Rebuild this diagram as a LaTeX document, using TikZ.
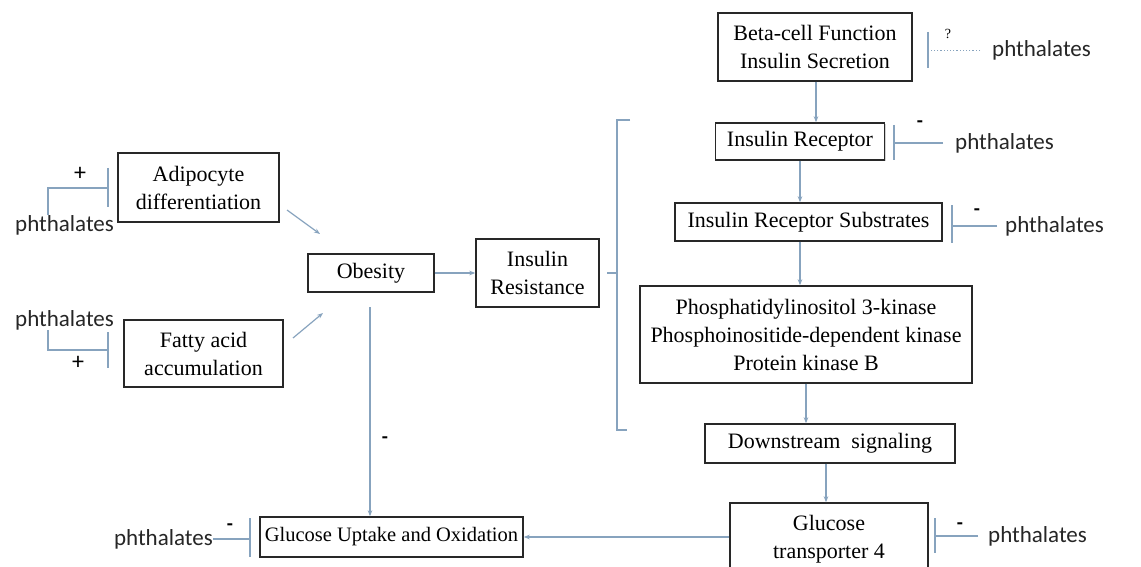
\documentclass[tikz,border=0pt]{standalone}
\usepackage{fontspec}
\setmainfont{Liberation Serif}
\newfontfamily\phfont{Carlito}
\usetikzlibrary{arrows.meta,shadows}
\definecolor{conn}{RGB}{135,163,190}
\definecolor{boxline}{RGB}{40,40,40}
\tikzset{
  box/.style={draw=boxline, line width=1.4pt, fill=white, inner sep=0pt, align=center,
    font=\fontsize{22}{28}\selectfont,
    drop shadow={shadow xshift=1.2pt, shadow yshift=-1.2pt, opacity=0.35}},
  conn/.style={draw=conn, line width=1.2pt},
  arr/.style={conn, -{Stealth[length=6pt,width=4.5pt]}},
  ph/.style={inner sep=0pt, font=\phfont\fontsize{23}{24}\selectfont, text=black!85},
  sign/.style={inner sep=0pt, font=\phfont\bfseries\fontsize{20}{20}\selectfont},
  plus/.style={inner sep=0pt, font=\phfont\fontsize{24}{24}\selectfont},
}
\begin{document}
\begin{tikzpicture}[x=1pt,y=-1pt]
\clip (0,0) rectangle (1141,567);
\fill[white] (0,0) rectangle (1141,567);

% boxes
\node[box, minimum width=161pt, minimum height=69pt] (adip) at (198.5,187.5) {Adipocyte\\differentiation};
\node[box, minimum width=159pt, minimum height=67pt] (fatty) at (203.5,353.5) {Fatty acid\\accumulation};
\node[box, minimum width=126pt, minimum height=38pt] (obes) at (371,273) {Obesity};
\node[box, minimum width=123pt, minimum height=68pt] (ires) at (537.5,273) {Insulin\\Resistance};
\node[box, minimum width=194pt, minimum height=68pt] (beta) at (815,47) {Beta-cell Function\\Insulin Secretion};
\node[box, minimum width=169pt, minimum height=37pt] (irec) at (800,141.5) {Insulin Receptor};
\node[box, minimum width=267pt, minimum height=38pt] (irs) at (808.5,222) {Insulin Receptor Substrates};
\node[box, minimum width=332pt, minimum height=97pt] (pik) at (806,334.5) {Phosphatidylinositol 3-kinase\\Phosphoinositide-dependent kinase\\Protein kinase B};
\node[box, minimum width=250pt, minimum height=39pt] (down) at (830,443.5) {Downstream\ \ signaling};
\node[box, minimum width=198pt, minimum height=72pt] (glut) at (829,539) {Glucose\\transporter 4};
\node[box, minimum width=263pt, minimum height=40pt, font=\fontsize{20.5}{28}\selectfont] (gluc) at (391.5,537) {Glucose Uptake and Oxidation};

% phthalates labels
\node[ph, anchor=west] (ph1) at (15,225) {phthalates};
\node[ph, anchor=west] (ph2) at (15,320) {phthalates};
\node[ph, anchor=west] (ph3) at (992,50) {phthalates};
\node[ph, anchor=west] (ph4) at (955,143) {phthalates};
\node[ph, anchor=west] (ph5) at (1005,226) {phthalates};
\node[ph, anchor=west] (ph6) at (988,536) {phthalates};
\node[ph, anchor=east] (ph7) at (213,539) {phthalates};

% main arrows
\coordinate (a1s) at (287,210); \coordinate (a1e) at (320,234);
\draw[arr] (a1s) -- (a1e);
\coordinate (a2s) at (293,338); \coordinate (a2e) at (323,313);
\draw[arr] (a2s) -- (a2e);
\draw[arr] (obes.east) -- (ires.west);
\coordinate (ov) at (370,307);
\draw[arr] (ov) -- (ov |- gluc.north);
\draw[arr] (beta.south -| 816,0) -- (irec.north -| 816,0);
\draw[arr] (irec.south) -- (irs.north -| irec.south);
\draw[arr] (irs.south -| 800,0) -- (pik.north -| 800,0);
\draw[arr] (pik.south) -- (down.north -| pik.south);
\draw[arr] (down.south -| 826,0) -- (glut.north -| 826,0);
\draw[arr] (glut.west |- 0,537) -- (gluc.east |- 0,537);
\node[sign] (m0) at (385,440) {-};

% bracket
\coordinate (brt) at (617,120); \coordinate (brb) at (617,430);
\draw[conn] (630,120) -- (brt) -- (brb) -- (627,430);
\draw[conn] (607,273) -- (617,273);

% inhibitor: adipocyte
\draw[conn] (ph1.north -| 48,0) -- (48,188) -- (108,188);
\draw[conn] (108,168) -- (108,207);
\node[plus] (p1) at (80,174) {+};
% inhibitor: fatty acid
\draw[conn] (ph2.south -| 48,0) -- (48,350) -- (108,350);
\draw[conn] (108,332) -- (108,368);
\node[plus] (p2) at (78,363) {+};
% beta-cell
\draw[conn, dotted, line width=0.8pt] (ph3.west) ++(-12,0) -- (928,50);
\draw[conn] (928,32) -- (928,68);
\node[inner sep=0pt, font=\fontsize{14}{14}\selectfont] (q3) at (948,34) {?};
% insulin receptor
\draw[conn] (ph4.west) ++(-12,0) -- (894,143);
\draw[conn] (894,125) -- (894,160);
\node[sign] (m4) at (920,124) {-};
% IRS
\draw[conn] (ph5.west) ++(-8,0) -- (952,226);
\draw[conn] (952,205) -- (952,243);
\node[sign] (m5) at (977,212) {-};
% GLUT4
\draw[conn] (ph6.west) ++(-10,0) -- (935,536);
\draw[conn] (935,518) -- (935,553);
\node[sign] (m6) at (960,526) {-};
% glucose uptake
\draw[conn] (ph7.east) -- (250,539);
\draw[conn] (250,518) -- (250,557);
\node[sign] (m7) at (230,527) {-};
\end{tikzpicture}
\end{document}
